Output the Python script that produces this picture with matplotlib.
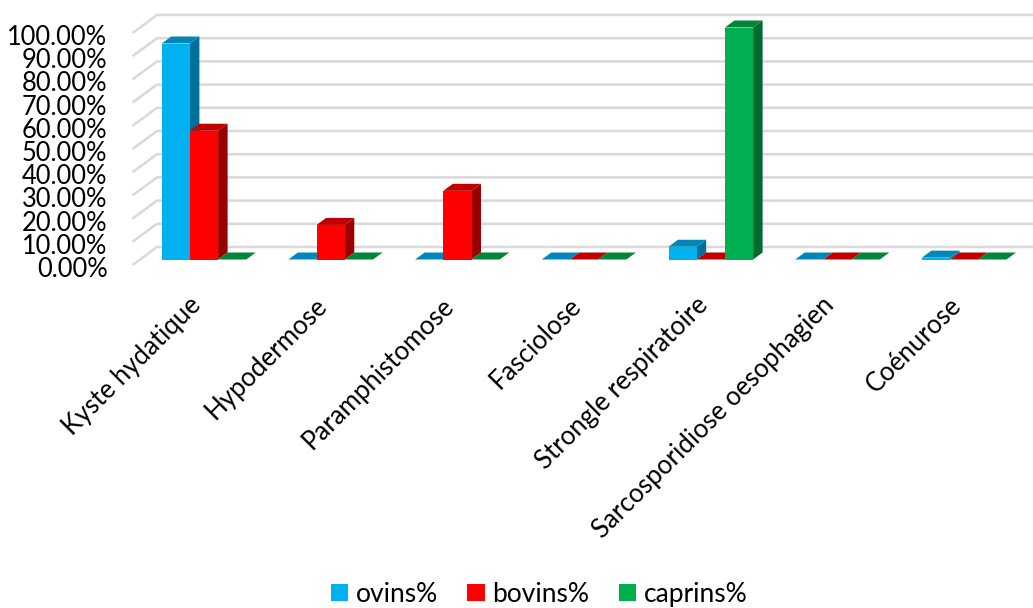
import matplotlib
matplotlib.use("Agg")
import matplotlib.pyplot as plt
from matplotlib.patches import Polygon, Patch
from matplotlib.transforms import ScaledTranslation

plt.rcParams['font.family'] = ['Lato', 'DejaVu Sans']

categories = ["Kyste hydatique", "Hypodermose", "Paramphistomose", "Fasciolose",
              "Strongle respiratoire", "Sarcosporidiose oesophagien", "Coénurose"]
ovins = [93.1, 0, 0, 0, 5.5, 0, 0.8]
bovins = [55.5, 14.9, 29.6, 0, 0, 0, 0]
caprins = [0, 0, 0, 0, 100.0, 0, 0]
series_names = ["ovins%", "bovins%", "caprins%"]
ticks = list(range(0, 101, 10))

# front, top and side shades of each series
shades = [("#00B0F0", "#0086B8", "#00709A"),
          ("#FF0000", "#C00000", "#990000"),
          ("#00B050", "#008539", "#006B30")]

W, H = 1033, 608
fig = plt.figure(figsize=(W / 100, H / 100), dpi=100)
# the axes plane is the front edge of the chart floor and side wall
px_left, px_right, px_base, px_top = 132.5, 1033.0, 265.0, 33.0
ax = fig.add_axes([px_left / W, 1 - px_base / H,
                   (px_right - px_left) / W, (px_base - px_top) / H])
step_px = 126.7
center_px = 204.0
ax.set_xlim((px_left - center_px) / step_px, (px_right - center_px) / step_px)
ax.set_ylim(0, 100)
unit_y = (px_base - px_top) / 100

# pseudo-3D offsets, converted to data units
wall_dx, wall_dy = 24.5 / step_px, 18.0 / unit_y
bar_rise = 5.5 / unit_y
depth_dx, depth_dy = 9.5 / step_px, 7.0 / unit_y
bar_w = 28.2 / step_px

# gridlines: diagonal on the side wall, then horizontal on the back wall
x_left, x_right = ax.get_xlim()
for t in ticks:
    ax.plot([x_left, x_left + wall_dx, x_right], [t, t + wall_dy, t + wall_dy],
            color="#D9D9D9", lw=1.8, clip_on=False, zorder=1, solid_capstyle="butt")

# bars, back-to-front order within each group
for i in range(len(categories)):
    for s, values in enumerate((ovins, bovins, caprins)):
        front, top, side = shades[s]
        x0 = i + (s - 1.5) * bar_w
        x1 = x0 + bar_w
        y0 = bar_rise
        y1 = bar_rise + values[i]
        z = 3 + s
        ax.add_patch(Polygon([(x1, y0), (x1 + depth_dx, y0 + depth_dy),
                              (x1 + depth_dx, y1 + depth_dy), (x1, y1)],
                             fc=side, ec="none", zorder=z, clip_on=False))
        ax.add_patch(Polygon([(x0, y1), (x1, y1), (x1 + depth_dx, y1 + depth_dy),
                              (x0 + depth_dx, y1 + depth_dy)],
                             fc=top, ec="none", zorder=z, clip_on=False))
        ax.add_patch(Polygon([(x0, y0), (x1, y0), (x1, y1), (x0, y1)],
                             fc=front, ec="none", zorder=z, clip_on=False))

for spine in ax.spines.values():
    spine.set_visible(False)
ax.set_yticks(ticks)
ax.set_yticklabels([f"{t:.2f}%" for t in ticks], fontsize=18.4, color="#000000")
# labels end a little left of each group's centre
label_shift = 16 / step_px
ax.set_xticks([i - label_shift for i in range(len(categories))])
ax.set_xticklabels(categories, fontsize=18.5, rotation=45, ha="right",
                   rotation_mode="anchor", color="#000000")
ax.tick_params(axis="both", length=0)
ax.tick_params(axis="y", pad=18)
ax.tick_params(axis="x", pad=20)

# nudge the value labels down slightly against their gridline ends
nudge = ScaledTranslation(0, -2 / 100, fig.dpi_scale_trans)
for lbl in ax.get_yticklabels():
    lbl.set_transform(lbl.get_transform() + nudge)

handles = [Patch(fc=shades[k][0], ec="none") for k in range(3)]
fig.legend(handles, series_names, loc="lower center", ncol=3, frameon=False,
           fontsize=19, bbox_to_anchor=(0.522, -0.037), handlelength=0.65,
           handleheight=0.65, handletextpad=0.3, columnspacing=1.1)

fig.savefig("out.png", dpi=100, facecolor="white")
